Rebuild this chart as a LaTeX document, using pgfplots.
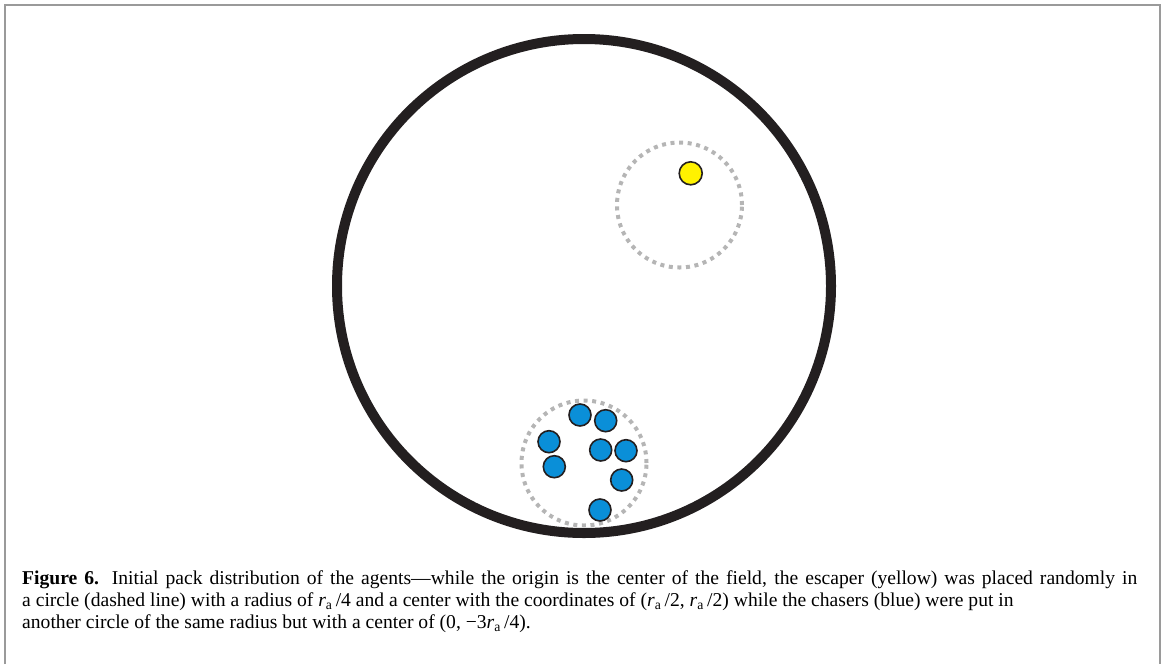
\documentclass[border=0pt]{standalone}
\usepackage{pgfplots}
\pgfplotsset{compat=1.18}
\usepackage{fontspec}
\setmainfont{Liberation Serif}
\definecolor{fieldblack}{HTML}{231F20}
\definecolor{chaserblue}{HTML}{0A8FD8}
\definecolor{escyellow}{HTML}{FFF200}
\definecolor{dashgray}{HTML}{B5B5B5}
\definecolor{framegray}{HTML}{9A9A9A}
\begin{document}
\begin{tikzpicture}
\begin{axis}[
  width=1165pt, height=664pt, scale only axis,
  xmin=0, xmax=1165, ymin=0, ymax=664, y dir=reverse,
  axis lines=none, clip=false,
]
% frame
\draw[framegray, line width=2pt] (axis cs:5,664) -- (axis cs:5,5) -- (axis cs:1160,5) -- (axis cs:1160,664);
% field
\addplot[only marks, mark=o, mark size=247pt,
  mark options={draw=fieldblack, line width=10pt}] coordinates {(584,286)};
% dashed start regions
\addplot[only marks, mark=o, mark size=62.5pt,
  mark options={draw=dashgray, line width=4pt, dash pattern=on 4pt off 4.6pt}]
  coordinates {(679.5,205) (584,463)};
% escaper
\addplot[only marks, mark=*, mark size=11.5pt,
  mark options={draw=fieldblack, fill=escyellow, line width=1.6pt}]
  coordinates {(690.7,173.3)};
% chasers
\addplot[only marks, mark=*, mark size=11pt,
  mark options={draw=fieldblack, fill=chaserblue, line width=1.6pt}]
  coordinates {(580,415) (605.7,420.7) (549,441.7) (600.7,450) (626,450.7)
               (554.3,466.7) (621.7,480) (600,510)};
% caption
\node[anchor=base west, inner sep=0pt, font=\fontsize{19.6}{22}\selectfont] at (axis cs:22,584)
  {\makebox[1115pt][s]{\textbf{Figure 6.} Initial pack distribution of the agents—while the origin is the center of the field, the escaper (yellow) was placed randomly in}};
\node[anchor=base west, inner sep=0pt, font=\fontsize{19.6}{22}\selectfont] at (axis cs:22,606)
  {a circle (dashed line) with a radius of \textit{r}\textsubscript{a}\,/4 and a center with the coordinates of (\textit{r}\textsubscript{a}\,/2, \textit{r}\textsubscript{a}\,/2) while the chasers (blue) were put in};
\node[anchor=base west, inner sep=0pt, font=\fontsize{19.6}{22}\selectfont] at (axis cs:22,628)
  {another circle of the same radius but with a center of (0, −3\textit{r}\textsubscript{a}\,/4).};
\path (rel axis cs:0,0) rectangle (rel axis cs:1,1);
\end{axis}
\end{tikzpicture}
\end{document}
